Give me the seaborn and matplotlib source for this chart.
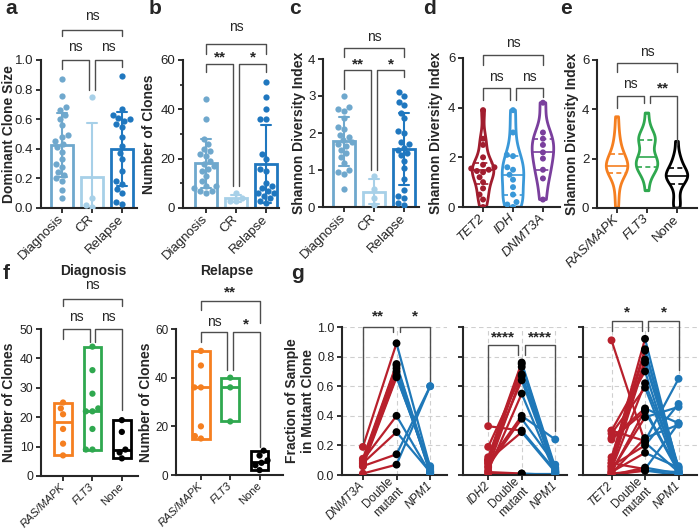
import numpy as np
import pandas as pd
import matplotlib.pyplot as plt
import seaborn as sns
from matplotlib.ticker import FormatStrFormatter, MultipleLocator

sns.set_style("ticks")
plt.rcParams['font.family'] = ['Liberation Sans', 'DejaVu Sans']

# ---- data ----
timepoints = ["Diagnosis", "CR", "Relapse"]
tp_colors = ["#6fa8cd", "#a7d0e8", "#1f77bf"]

clone_dx = [0.87, 0.76, 0.68, 0.66, 0.63, 0.60, 0.56, 0.49, 0.48, 0.45, 0.43,
            0.41, 0.38, 0.33, 0.30, 0.28, 0.24, 0.22, 0.20, 0.18, 0.12, 0.07]
clone_cr = [0.75, 0.07, 0.02, 0.01]
clone_rel = [0.89, 0.67, 0.63, 0.61, 0.60, 0.59, 0.57, 0.55, 0.48, 0.42,
             0.37, 0.33, 0.25, 0.18, 0.16, 0.13, 0.10, 0.04, 0.03]

nclones_dx = [44, 36, 28, 26, 24, 23, 22, 21, 19, 18, 17, 16, 15, 13, 11,
              9, 9, 8, 7, 7, 6]
nclones_cr = [6, 4, 3, 3]
nclones_rel = [51, 45, 40, 36, 36, 22, 20, 16, 15, 10, 9, 8, 7, 6, 6, 5,
               4, 3, 2]

shannon_dx = [3.0, 2.7, 2.65, 2.6, 2.4, 2.15, 2.1, 1.95, 1.9, 1.8, 1.75,
              1.7, 1.65, 1.55, 1.45, 1.35, 1.2, 1.0, 0.95, 0.9, 0.5]
shannon_cr = [0.85, 0.5, 0.25, 0.05]
shannon_rel = [3.1, 3.0, 2.85, 2.75, 2.55, 2.4, 2.05, 2.0, 1.75, 1.7, 1.6,
               1.55, 1.45, 1.4, 1.25, 1.05, 0.75, 0.45, 0.3, 0.25, 0.1, 0.05]

epi_genes = ["TET2", "IDH", "DNMT3A"]
epi_colors = ["#a11d2e", "#3a98d8", "#7a3f9d"]
shannon_tet2 = [0.0, 0.3, 0.5, 0.75, 1.0, 1.2, 1.4, 1.45, 1.5, 1.55, 1.6,
                1.7, 2.0, 2.5, 2.75, 3.9]
shannon_idh = [0.0, 0.1, 0.2, 0.5, 0.8, 1.1, 1.3, 1.5, 1.6, 2.05, 2.1, 3.0, 3.9]
shannon_dnmt3a = [0.3, 1.15, 1.5, 1.95, 2.2, 2.5, 2.75, 3.0, 4.2]

sig_groups = ["RAS/MAPK", "FLT3", "None"]
sig_colors = ["#f57f20", "#2fa84f", "#000000"]
shannon_ras = [0.0, 0.5, 0.9, 1.2, 1.35, 1.4, 1.5, 1.6, 1.65, 1.7, 1.7, 1.8,
               1.9, 2.0, 2.1, 2.2, 2.3, 2.6, 2.8, 3.2, 3.7]
shannon_flt3 = [0.7, 1.2, 1.5, 1.55, 1.6, 1.7, 1.8, 1.9, 2.0, 2.05, 2.1, 2.5,
                2.7, 2.75, 2.8, 2.9, 3.0, 3.3, 3.85]
shannon_none = [0.0, 0.1, 0.3, 0.6, 0.9, 1.0, 1.1, 1.2, 1.25, 1.3, 1.3, 1.35,
                1.4, 1.5, 1.6, 1.7, 1.8, 2.0, 2.2, 2.7]

dx_ras = [25, 23, 21, 16, 11, 7]
dx_flt3 = [44, 36, 28, 23, 22, 22, 16, 9, 9]
dx_none = [19, 15, 9, 8, 6]
rel_ras = [51, 45, 36, 36, 20, 16, 15]
rel_flt3 = [40, 36, 22]
rel_none = [10, 8, 6, 5, 4, 2]

# paired fractions: single mutant, double mutant, NPM1
dnmt3a_single = [0.19, 0.11, 0.10, 0.09, 0.08, 0.07, 0.06, 0.10, 0.08, 0.06, 0.01]
dnmt3a_double = [0.89, 0.75, 0.74, 0.72, 0.70, 0.67, 0.66, 0.40, 0.29, 0.14, 0.07]
dnmt3a_npm1 = [0.05, 0.03, 0.02, 0.01, 0.02, 0.04, 0.06, 0.01, 0.02, 0.60, 0.60]

idh2_single = [0.12, 0.10, 0.08, 0.19, 0.05, 0.10, 0.03, 0.08, 0.06, 0.33, 0.10, 0.02, 0.01]
idh2_double = [0.76, 0.75, 0.73, 0.68, 0.67, 0.64, 0.55, 0.40, 0.38, 0.30, 0.29, 0.01, 0.01]
idh2_npm1 = [0.05, 0.03, 0.02, 0.01, 0.04, 0.02, 0.01, 0.24, 0.07, 0.03, 0.02, 0.01, 0.00]

tet2_single = [0.91, 0.10, 0.12, 0.06, 0.08, 0.05, 0.30, 0.04, 0.28, 0.25, 0.02,
               0.24, 0.03, 0.01, 0.30, 0.06, 0.02, 0.00, 0.08, 0.01, 0.00]
tet2_double = [0.22, 0.92, 0.85, 0.84, 0.78, 0.76, 0.70, 0.62, 0.59, 0.45, 0.44,
               0.43, 0.39, 0.25, 0.23, 0.20, 0.15, 0.05, 0.04, 0.03, 0.03]
tet2_npm1 = [0.02, 0.03, 0.01, 0.05, 0.02, 0.04, 0.00, 0.06, 0.01, 0.35, 0.03,
             0.02, 0.46, 0.34, 0.65, 0.48, 0.05, 0.01, 0.35, 0.02, 0.00]

red = "#b8202c"
blue = "#1f78b8"
BR = "#4d4d4d"

W, H = 700, 532
fig = plt.figure(figsize=(7, 5.32), dpi=100)


def axes_px(left, right, top, bottom):
    return fig.add_axes([left / W, 1 - bottom / H, (right - left) / W, (bottom - top) / H])


def finish(ax, xlim, ylim, yticks, xlabels, italic, fmt=None, showy=True, fs=9.5, xfs=9.5):
    ax.set_xlim(xlim)
    ax.set_ylim(ylim)
    ax.set_yticks(yticks)
    if fmt:
        ax.yaxis.set_major_formatter(FormatStrFormatter(fmt))
    ax.set_xticks(range(len(xlabels)))
    ax.set_xticklabels(xlabels, rotation=45, ha="right", rotation_mode="anchor", fontsize=xfs)
    for lbl, it in zip(ax.get_xticklabels(), italic):
        lbl.set_style("italic" if it else "normal")
        lbl.set_va("center")
    ax.set_xlabel("")
    ax.set_ylabel("")
    sns.despine(ax=ax)
    for s in ["left", "bottom"]:
        ax.spines[s].set_linewidth(1.5)
    ax.tick_params(width=1.3, length=3.5, pad=2, colors="#222222")
    ax.tick_params(axis="y", labelsize=fs)
    ax.tick_params(axis="x", pad=3)
    if not showy:
        ax.tick_params(axis="y", labelleft=False)


def bracket(ax, x1, x2, y, b1, b2, text, ty):
    ax.plot([x1, x1, x2, x2], [b1, y, y, b2], color=BR, lw=1, clip_on=False)
    bold = text != "ns"
    ax.text((x1 + x2) / 2, ty, text, ha="center", va="center",
            fontsize=11 if bold else 10, fontweight="bold" if bold else "normal",
            clip_on=False)


def bar_panel(ax, groups):
    for name, vals, c in zip(timepoints, groups, tp_colors):
        sns.barplot(x=[name] * len(vals), y=vals, order=timepoints, color=c, fill=False,
                    errorbar="sd", capsize=0.35, linewidth=2, width=0.72,
                    err_kws={"color": c, "linewidth": 1.5}, ax=ax)
        sns.swarmplot(x=[name] * len(vals), y=vals, order=timepoints, color=c,
                      size=4.5, ax=ax)


def violin_panel(ax, names, datasets, colors, points):
    df = pd.DataFrame({"group": np.repeat(names, [len(d) for d in datasets]),
                       "val": np.concatenate(datasets)})
    pal = dict(zip(names, colors))
    sns.violinplot(data=df, x="group", y="val", hue="group", order=names, hue_order=names,
                   palette=pal, fill=False, inner="quart", cut=0, density_norm="width",
                   width=0.72, linewidth=2, bw_adjust=0.7, inner_kws={"linewidth": 1.2},
                   legend=False, ax=ax)
    for i, ln in enumerate(ax.lines):
        ln.set_linestyle("-" if i % 3 == 1 else (0, (3, 2)))
        ln.set_color(colors[(i // 3) % len(colors)])
    if points:
        sns.swarmplot(data=df, x="group", y="val", hue="group", order=names,
                      hue_order=names, palette=pal, size=4.3, legend=False, ax=ax)


def range_panel(ax, groups):
    df = pd.DataFrame({"group": np.repeat(sig_groups, [len(d) for d in groups]),
                       "val": np.concatenate(groups)})
    pal = dict(zip(sig_groups, sig_colors))
    sns.swarmplot(data=df, x="group", y="val", hue="group", order=sig_groups,
                  hue_order=sig_groups, palette=pal, size=4.5, legend=False, ax=ax, zorder=3)
    for i, (vals, c) in enumerate(zip(groups, sig_colors)):
        ax.bar(i, max(vals) - min(vals), bottom=min(vals), width=0.6, fill=False,
               edgecolor=c, linewidth=2)
        ax.hlines(np.median(vals), i - 0.3, i + 0.3, color=c, linewidth=2)


def paired_panel(ax, single, double, npm1):
    n = len(single)
    pid = np.arange(n)
    seg1 = pd.DataFrame({"pid": np.r_[pid, pid], "pos": np.r_[np.zeros(n), np.ones(n)],
                         "frac": np.r_[single, double]})
    seg2 = pd.DataFrame({"pid": np.r_[pid, pid], "pos": np.r_[np.ones(n), np.full(n, 2.0)],
                         "frac": np.r_[double, npm1]})
    ax.grid(True, ls=(0, (4, 3)), color="#cfcfcf", lw=0.8)
    ax.set_axisbelow(True)
    sns.lineplot(data=seg1, x="pos", y="frac", units="pid", estimator=None, color=red,
                 linewidth=1.6, ax=ax)
    sns.lineplot(data=seg2, x="pos", y="frac", units="pid", estimator=None, color=blue,
                 linewidth=1.6, ax=ax)
    sns.scatterplot(x=np.zeros(n), y=single, color=red, s=32, edgecolor="none", ax=ax, zorder=4)
    sns.scatterplot(x=np.full(n, 2.0), y=npm1, color=blue, s=32, edgecolor="none", ax=ax, zorder=4)
    sns.scatterplot(x=np.ones(n), y=double, color="black", s=32, edgecolor="none", ax=ax, zorder=5)


# ---- a ----
ax = axes_px(41, 137, 60, 208)
bar_panel(ax, [clone_dx, clone_cr, clone_rel])
finish(ax, (-0.7, 2.5), (0, 1.0), np.arange(0, 1.01, 0.2), timepoints, [0, 0, 0], "%.1f")
bracket(ax, 0, 0.9, 1.0, 0.94, 0.80, "ns", 1.09)
bracket(ax, 1.1, 2, 1.0, 0.80, 0.95, "ns", 1.09)
bracket(ax, 0, 2, 1.20, 1.16, 1.16, "ns", 1.30)

# ---- b ----
ax = axes_px(183, 279, 60, 208)
bar_panel(ax, [nclones_dx, nclones_cr, nclones_rel])
finish(ax, (-0.77, 2.43), (0, 60), [0, 20, 40, 60], timepoints, [0, 0, 0])
ax.yaxis.set_minor_locator(MultipleLocator(10))
ax.tick_params(axis="y", which="minor", length=2.2, width=1.2)
bracket(ax, 0, 0.9, 58.5, 55, 9, "**", 61)
bracket(ax, 1.1, 2, 58.5, 9, 55, "*", 61)
bracket(ax, 0, 2, 66.5, 62.5, 62.5, "ns", 73.4)

# ---- c ----
ax = axes_px(323, 419, 59, 207)
bar_panel(ax, [shannon_dx, shannon_cr, shannon_rel])
finish(ax, (-0.7, 2.5), (0, 4), [0, 1, 2, 3, 4], timepoints, [0, 0, 0])
bracket(ax, 0, 0.9, 3.70, 3.2, 1.0, "**", 3.84)
bracket(ax, 1.1, 2, 3.70, 1.0, 3.52, "*", 3.84)
bracket(ax, 0, 2, 4.29, 4.06, 4.06, "ns", 4.6)

# ---- d ----
ax = axes_px(463, 560, 58, 207)
violin_panel(ax, epi_genes, [shannon_tet2, shannon_idh, shannon_dnmt3a], epi_colors, True)
finish(ax, (-0.67, 2.57), (0, 6), [0, 2, 4, 6], epi_genes, [1, 1, 1])
bracket(ax, 0, 0.9, 4.8, 4.31, 4.31, "ns", 5.24)
bracket(ax, 1.1, 2, 4.8, 4.31, 4.44, "ns", 5.24)
bracket(ax, 0, 2, 6.13, 5.73, 5.73, "ns", 6.61)

# ---- e ----
ax = axes_px(597, 697, 60, 208)
violin_panel(ax, sig_groups, [shannon_ras, shannon_flt3, shannon_none], sig_colors, False)
finish(ax, (-0.67, 2.67), (0, 6), [0, 2, 4, 6], sig_groups, [1, 1, 0])
bracket(ax, 0, 0.9, 4.53, 4.05, 4.25, "ns", 5.02)
bracket(ax, 1.1, 2, 4.53, 4.25, 2.55, "**", 4.86)
bracket(ax, 0, 2, 5.87, 5.5, 5.5, "ns", 6.32)

# ---- f ----
ax = axes_px(41, 138, 329, 476)
range_panel(ax, [dx_ras, dx_flt3, dx_none])
finish(ax, (-0.75, 2.55), (0, 50), np.arange(0, 51, 10), sig_groups, [1, 1, 0], fs=8.8, xfs=8)
bracket(ax, 0, 0.9, 50, 46.6, 45.6, "ns", 54)
bracket(ax, 1.1, 2, 50, 45.6, 22.4, "ns", 54)
bracket(ax, 0, 2, 60.2, 57.8, 57.8, "ns", 65)

ax = axes_px(176, 283, 329, 475)
range_panel(ax, [rel_ras, rel_flt3, rel_none])
finish(ax, (-0.85, 2.8), (0, 60), [0, 20, 40, 60], sig_groups, [1, 1, 0], fs=8.5, xfs=8)
bracket(ax, 0, 0.9, 58.8, 54.7, 43.2, "ns", 63)
bracket(ax, 1.1, 2, 58.8, 43.2, 11.5, "*", 61.7)
bracket(ax, 0, 2, 71.6, 68, 62.5, "**", 74.9)

fig.text(93 / W, 1 - 275 / H, "Diagnosis", ha="center", va="baseline", fontsize=10, fontweight="bold")
fig.text(227 / W, 1 - 275 / H, "Relapse", ha="center", va="baseline", fontsize=10, fontweight="bold")

# ---- g ----
ax = axes_px(342, 447, 327, 475)
paired_panel(ax, dnmt3a_single, dnmt3a_double, dnmt3a_npm1)
finish(ax, (-0.62, 2.5), (0, 1.0), np.arange(0, 1.01, 0.2), ["DNMT3A", "Double\nmutant", "NPM1"],
       [1, 0, 1], "%.1f", fs=9, xfs=8.5)
bracket(ax, 0, 0.9, 1.0, 0.22, 0.966, "**", 1.07)
bracket(ax, 1.1, 2, 1.0, 0.966, 0.63, "*", 1.07)

ax = axes_px(463, 567, 327, 475)
paired_panel(ax, idh2_single, idh2_double, idh2_npm1)
finish(ax, (-0.75, 2.35), (0, 1.0), np.arange(0, 1.01, 0.2), ["IDH2", "Double\nmutant", "NPM1"],
       [1, 0, 1], "%.1f", showy=False, xfs=8.5)
bracket(ax, 0, 0.9, 0.88, 0.36, 0.81, "****", 0.93)
bracket(ax, 1.1, 2, 0.88, 0.81, 0.30, "****", 0.93)

ax = axes_px(583, 697, 327, 475)
paired_panel(ax, tet2_single, tet2_double, tet2_npm1)
finish(ax, (-0.85, 2.55), (0, 1.0), np.arange(0, 1.01, 0.2), ["TET2", "Double\nmutant", "NPM1"],
       [1, 0, 1], "%.1f", showy=False, xfs=8.5)
bracket(ax, 0, 0.9, 1.04, 0.97, 0.97, "*", 1.095)
bracket(ax, 1.1, 2, 1.04, 0.97, 0.71, "*", 1.095)

# ---- y labels ----
ylab = dict(rotation=90, ha="center", va="center", fontsize=10, fontweight="bold")
fig.text(9 / W, 1 - 134 / H, "Dominant Clone Size", **ylab)
fig.text(149 / W, 1 - 134 / H, "Number of Clones", **ylab)
fig.text(299 / W, 1 - 133 / H, "Shannon Diversity Index", **ylab)
fig.text(436 / W, 1 - 133 / H, "Shannon Diversity Index", **ylab)
fig.text(572 / W, 1 - 134 / H, "Shannon Diversity Index", **ylab)
fig.text(9 / W, 1 - 402 / H, "Number of Clones", **ylab)
fig.text(146 / W, 1 - 402 / H, "Number of Clones", **ylab)
fig.text(300 / W, 1 - 401 / H, "Fraction of Sample\nin Mutant Clone", **ylab)

# ---- panel letters ----
for letter, x, y in [("a", 5, 14), ("b", 149, 14), ("c", 289, 14), ("d", 423, 14),
                     ("e", 560, 14), ("f", 3, 279), ("g", 291, 279)]:
    fig.text(x / W, 1 - y / H, letter, fontsize=15, fontweight="bold", va="baseline")

plt.savefig("out.png", dpi=100)
